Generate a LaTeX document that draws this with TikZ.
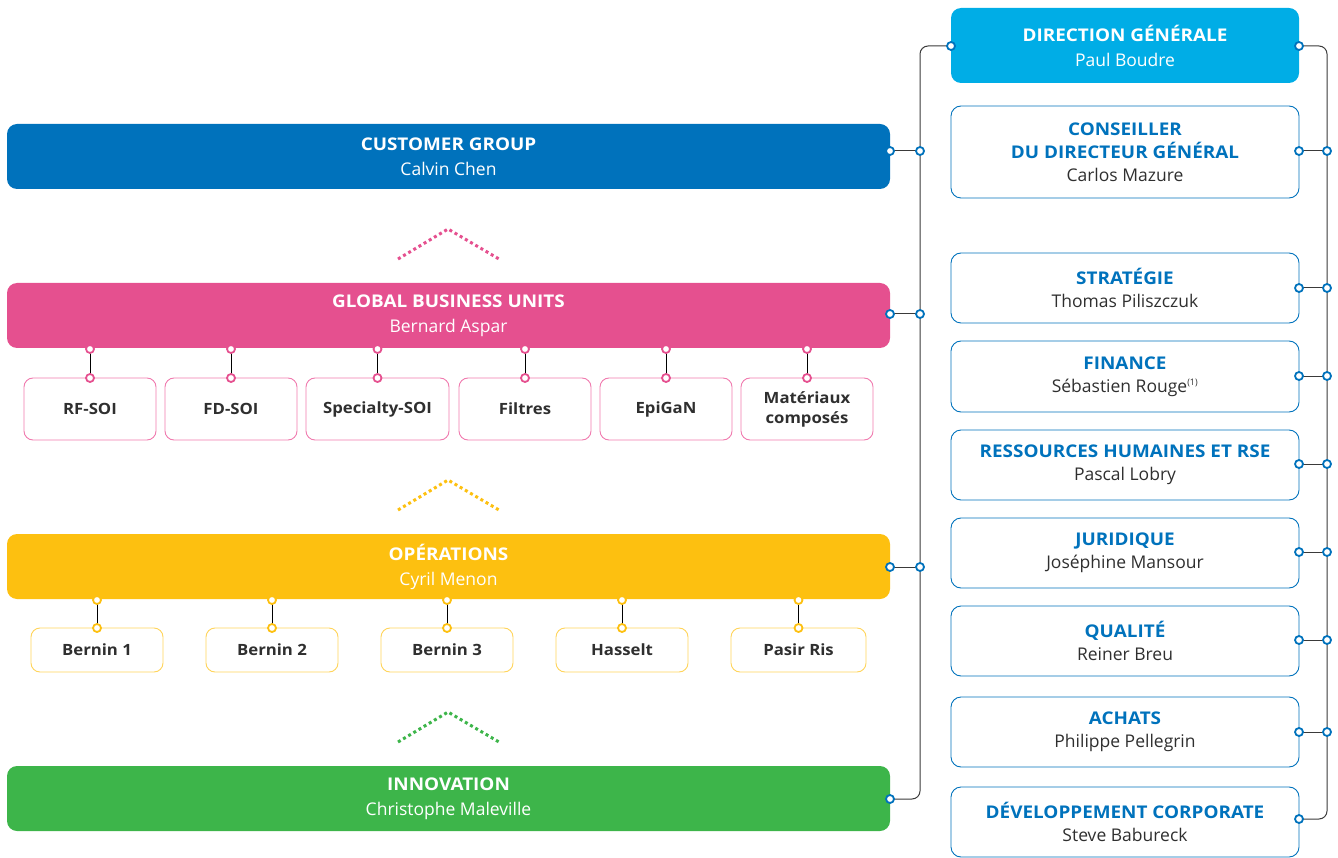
\documentclass[tikz,border=0pt]{standalone}
\usepackage{fontspec}
\setmainfont{Open Sans}[BoldFeatures={FakeStretch=1.08}]
\definecolor{cgblue}{HTML}{0072BC}
\definecolor{dgcyan}{HTML}{00ADE6}
\definecolor{gbupink}{HTML}{E5508F}
\definecolor{opsyellow}{HTML}{FDC010}
\definecolor{innogreen}{HTML}{3DB54A}
\definecolor{pinkline}{HTML}{F07AAE}
\definecolor{yellowline}{HTML}{FFD45A}
\definecolor{nametext}{HTML}{2F2F2F}
\definecolor{busgray}{HTML}{3A3A3A}
\tikzset{
  bigbox/.style={rectangle, rounded corners=10pt, minimum width=883pt, minimum height=65pt,
    text=white, align=center, font=\fontsize{17.5}{25}\selectfont},
  rightbox/.style={rectangle, rounded corners=10pt, draw=cgblue, line width=0.9pt,
    minimum width=348pt, minimum height=70pt, align=center, text=nametext,
    font=\fontsize{17.5}{23}\selectfont},
  subbox/.style={rectangle, rounded corners=9pt, line width=0.9pt, minimum width=132pt,
    text=nametext, align=center, font=\bfseries\fontsize{15.5}{20}\selectfont},
  port/.style={circle, draw=#1, fill=white, line width=1.8pt, inner sep=0pt, minimum size=8pt},
  port/.default=cgblue,
  bus/.style={busgray, line width=1pt},
  chevron/.style={line width=3pt, dash pattern=on 3pt off 3pt}
}
\newcommand{\ttl}[1]{\textbf{\textcolor{cgblue}{#1}}}
\begin{document}
\begin{tikzpicture}[x=1pt,y=-1pt]
\useasboundingbox (0,0) rectangle (1338,858);

% Grandes branches a gauche
\node[bigbox, fill=cgblue] (cg) at (448.5,156.5) {\textbf{CUSTOMER GROUP}\\Calvin Chen};
\node[bigbox, fill=gbupink] (gbu) at (448.5,315.5) {\textbf{GLOBAL BUSINESS UNITS}\\Bernard Aspar};
\node[bigbox, fill=opsyellow] (ops) at (448.5,566.5) {\textbf{OPÉRATIONS}\\Cyril Menon};
\node[bigbox, fill=innogreen] (inno) at (448.5,798.5) {\textbf{INNOVATION}\\Christophe Maleville};

% Chevrons en pointilles
\draw[chevron, gbupink] (398,259) -- (448,229) -- (499,259);
\draw[chevron, opsyellow] (398,510) -- (448,480) -- (499,510);
\draw[chevron, innogreen] (398,742) -- (448,712) -- (499,742);

% Business units
\foreach \name/\x/\w/\txt in {rf/90/132/RF-SOI, fd/231/132/FD-SOI, spec/377.5/143/Specialty-SOI,
    filt/525/132/Filtres, epi/666/132/EpiGaN, mat/807/132/{Matériaux\\composés}}{
  \node[subbox, draw=pinkline, minimum width=\w pt, minimum height=62pt] (\name) at (\x,409) {\txt};
  \coordinate (\name T) at (\x,349);
  \coordinate (\name B) at (\x,378);
  \draw[line width=1pt] (\name T) -- (\name B);
  \node[port=gbupink] at (\name T) {};
  \node[port=gbupink] at (\name B) {};
}

% Sites
\foreach \name/\x/\w/\txt in {b1/97/132/Bernin 1, b2/272/132/Bernin 2, b3/447/132/Bernin 3,
    has/622/132/Hasselt, pas/798.5/135/Pasir Ris}{
  \node[subbox, draw=yellowline, minimum width=\w pt, minimum height=44pt] (\name) at (\x,650) {\txt};
  \coordinate (\name T) at (\x,600);
  \coordinate (\name B) at (\x,628);
  \draw[line width=1pt] (\name T) -- (\name B);
  \node[port=opsyellow] at (\name T) {};
  \node[port=opsyellow] at (\name B) {};
}

% Fonctions a droite
\node[rectangle, rounded corners=10pt, fill=dgcyan, minimum width=348pt, minimum height=75pt,
  text=white, align=center, font=\fontsize{17.5}{25}\selectfont] (dg) at (1125,45.5)
  {\textbf{DIRECTION GÉNÉRALE}\\Paul Boudre};
\node[rightbox, minimum height=92pt] (cons) at (1125,152) {\ttl{CONSEILLER}\\\ttl{DU DIRECTEUR GÉNÉRAL}\\Carlos Mazure};
\node[rightbox] (strat) at (1125,288) {\ttl{STRATÉGIE}\\Thomas Piliszczuk};
\node[rightbox, minimum height=71pt] (fin) at (1125,376.5) {\ttl{FINANCE}\\Sébastien Rouge\textsuperscript{\fontsize{9}{9}\selectfont(1)}};
\node[rightbox] (rh) at (1125,465) {\ttl{RESSOURCES HUMAINES ET RSE}\\Pascal Lobry};
\node[rightbox] (jur) at (1125,553) {\ttl{JURIDIQUE}\\Joséphine Mansour};
\node[rightbox] (qual) at (1125,641) {\ttl{QUALITÉ}\\Reiner Breu};
\node[rightbox] (ach) at (1125,732) {\ttl{ACHATS}\\Philippe Pellegrin};
\node[rightbox] (dev) at (1125,822) {\ttl{DÉVELOPPEMENT CORPORATE}\\Steve Babureck};

% Points de raccordement
\coordinate (dgL) at (951,46);
\coordinate (dgR) at (1299,46);
\coordinate (cgP) at (890,151);  \coordinate (cgB) at (920,151);
\coordinate (gbuP) at (890,314); \coordinate (gbuB) at (920,314);
\coordinate (opsP) at (890,567); \coordinate (opsB) at (920,567);
\coordinate (innoP) at (890,799);
\coordinate (busL) at (920,0);
\coordinate (busR) at (1327,0);
\foreach \name/\y in {cons/151, strat/288, fin/376, rh/464, jur/552, qual/640, ach/732}{
  \coordinate (\name P) at (1299,\y);
  \coordinate (\name B) at (1327,\y);
}
\coordinate (devP) at (1299,819);

% Bus verticaux
\draw[bus, rounded corners=8pt] (dgL) -- (dgL -| busL) -- (innoP -| busL) -- (innoP);
\draw[bus, rounded corners=8pt] (dgR) -- (dgR -| busR) -- (devP -| busR) -- (devP);
\foreach \name in {cg, gbu, ops}{
  \draw[bus] (\name P) -- (\name B);
  \node[port] at (\name P) {};
  \node[port] at (\name B) {};
}
\foreach \name in {cons, strat, fin, rh, jur, qual, ach}{
  \draw[bus] (\name P) -- (\name B);
  \node[port] at (\name P) {};
  \node[port] at (\name B) {};
}
\node[port] at (dgL) {};
\node[port] at (dgR) {};
\node[port] at (innoP) {};
\node[port] at (devP) {};

\end{tikzpicture}
\end{document}
